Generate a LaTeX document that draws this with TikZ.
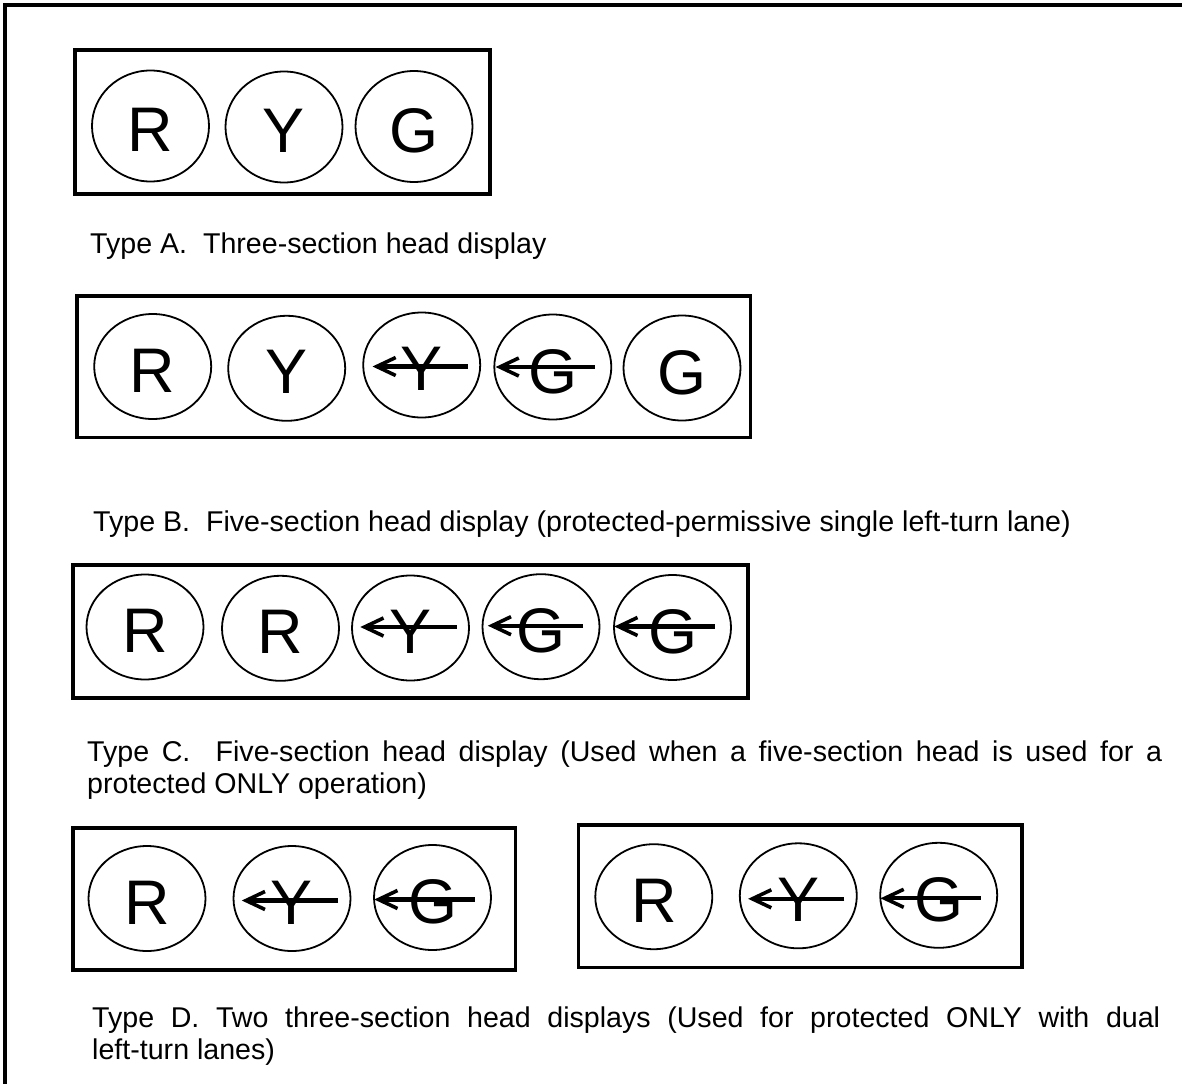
\documentclass[tikz,border=0pt]{standalone}
\usepackage{fontspec}
\setmainfont{Liberation Sans}
\usetikzlibrary{shapes.geometric}
\tikzset{
  frameline/.style={line width=3.4pt},
  headbox/.style={draw,line width=3.4pt},
  lamp/.style={ellipse,draw,line width=1.8pt,inner sep=0pt,minimum width=117pt,minimum height=105pt,font=\fontsize{63}{63}\selectfont},
  lampA/.style={lamp,minimum height=111pt},
  arrshaft/.style={line width=4.2pt},
  arrbarb/.style={line width=3.6pt,line join=miter,miter limit=3},
  caption/.style={anchor=base west,inner sep=0pt,font=\fontsize{28.6}{33}\selectfont}
}
\newcommand{\lt}[1]{\raisebox{-4pt}[\height][0pt]{#1}}
% turn arrow across a lamp: node, left offset, right offset, downward shift
\newcommand{\turnarrow}[4]{%
  \coordinate (#1-tip) at ([xshift=-#2pt,yshift=-#4pt]#1.center);
  \coordinate (#1-end) at ([xshift=#3pt,yshift=-#4pt]#1.center);
  \draw[arrshaft] (#1-end) -- ([xshift=2pt]#1-tip);
  \draw[arrbarb] ([xshift=19pt,yshift=9pt]#1-tip) -- (#1-tip) -- ([xshift=19pt,yshift=-9pt]#1-tip);
}
\begin{document}
\begin{tikzpicture}[x=1pt,y=-1pt]
\useasboundingbox (0,0) rectangle (1182,1084);
% outer frame (top and left only)
\coordinate (f1) at (1182,5);
\coordinate (f2) at (5,5);
\coordinate (f3) at (5,1084);
\draw[frameline] (f1) -- (f2) -- (f3);

% ---------- Type A ----------
\draw[headbox] (75,50) rectangle (490,194);
\node[lampA] (aR) at (150.5,126) {\lt{R}};
\node[lampA] (aY) at (284,127) {\lt{Y}};
\node[lampA] (aG) at (414,126.5) {\lt{G}};
\node[caption] (capA) at (90,253) {Type A.\ \ Three-section head display};

% ---------- Type B ----------
\draw[headbox] (77,296) rectangle (750.5,437.5);
\node[lamp] (bR) at (152.7,366.5) {\lt{R}};
\node[lamp] (bY) at (286.7,368.3) {\lt{Y}};
\node[lamp] (bYa) at (421.7,365) {\lt{Y}};
\node[lamp] (bGa) at (552.8,367) {\lt{G}};
\node[lamp] (bG) at (682,368) {\lt{G}};
\turnarrow{bYa}{45}{46}{1.5}
\turnarrow{bGa}{53}{42}{0}
\node[caption] (capB) at (93,531) {Type B.\ \ Five-section head display (protected-permissive single left-turn lane)};

% ---------- Type C ----------
\draw[headbox] (73,565) rectangle (748,698);
\node[lamp] (cR1) at (145,627) {\lt{R}};
\node[lamp] (cR2) at (280.5,628.3) {\lt{R}};
\node[lamp] (cYa) at (410.5,628) {\lt{Y}};
\node[lamp] (cGa1) at (541,626.7) {\lt{G}};
\node[lamp] (cGa2) at (672.5,627.5) {\lt{G}};
\turnarrow{cYa}{46}{46}{-1}
\turnarrow{cGa1}{49}{42}{-1}
\turnarrow{cGa2}{54}{42}{-1}
\node[caption] (capC1) at (87,761) {\hbox to 1075pt{Type C.\ \ Five-section head display (Used when a five-section head is used for a}};
\node[caption] (capC2) at (87,793) {protected ONLY operation)};

% ---------- Type D ----------
\draw[headbox] (73,828) rectangle (515.5,970);
\node[lamp] (dR) at (147,898.5) {\lt{R}};
\node[lamp] (dYa) at (292,898.5) {\lt{Y}};
\node[lamp] (dGa) at (432.5,897.5) {\lt{G}};
\turnarrow{dYa}{46}{46}{2}
\turnarrow{dGa}{54}{42}{2}

\draw[headbox] (578.5,825) rectangle (1022,967.5);
\node[lamp] (eR) at (653.8,896.7) {\lt{R}};
\node[lamp] (eYa) at (798.3,895.8) {\lt{Y}};
\node[lamp] (eGa) at (938.7,895.3) {\lt{G}};
\turnarrow{eYa}{46}{46}{3}
\turnarrow{eGa}{54}{42}{3}

\node[caption] (capD1) at (92,1027) {\hbox to 1068pt{Type D. Two three-section head displays (Used for protected ONLY with dual}};
\node[caption] (capD2) at (92,1059) {left-turn lanes)};
\end{tikzpicture}
\end{document}
